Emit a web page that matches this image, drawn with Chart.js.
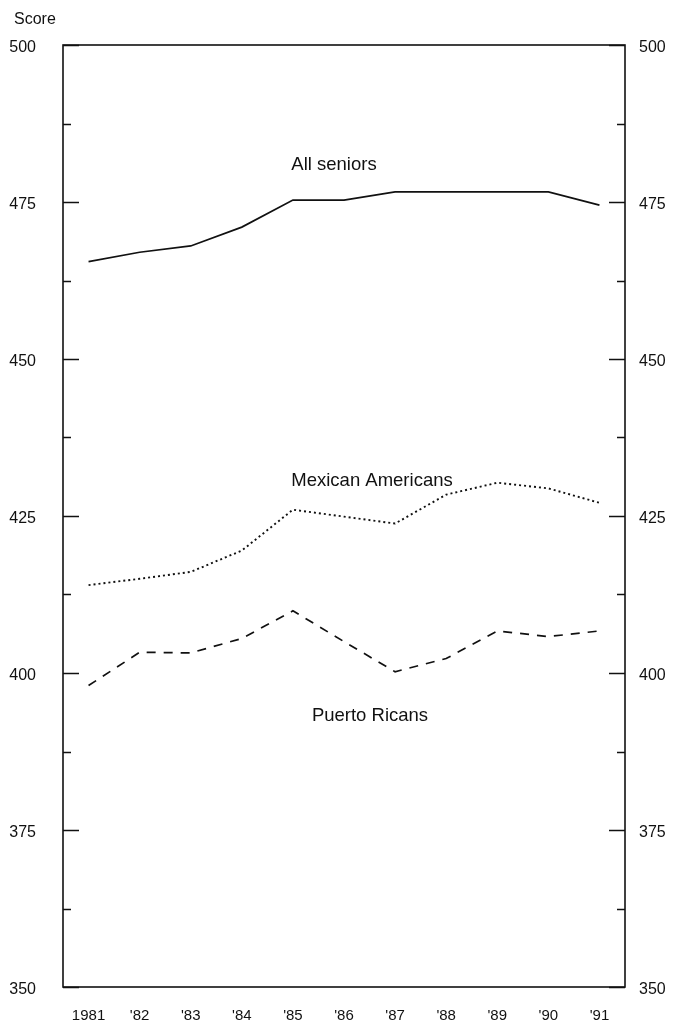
<!DOCTYPE html>
<html>
<head>
<meta charset="utf-8">
<title>Score</title>
<script src="https://cdn.jsdelivr.net/npm/chart.js@4.4.1/dist/chart.umd.min.js"></script>
<style>
  body { margin: 0; background: #fff; }
</style>
</head>
<body>
<canvas id="scoreChart" width="674" height="1024"></canvas>
<script>
var years = ['1981', "'82", "'83", "'84", "'85", "'86", "'87", "'88", "'89", "'90", "'91"];
var allSeniors = [465.5, 467, 468, 471, 475.3, 475.3, 476.6, 476.6, 476.6, 476.6, 474.5];
var mexicanAmericans = [414, 415, 416.1, 419.5, 426, 424.9, 423.8, 428.4, 430.3, 429.4, 427.1];
var puertoRicans = [398, 403.3, 403.2, 405.5, 409.9, 405, 400.2, 402.3, 406.7, 405.8, 406.7];
var scoreMin = 350;
var scoreMax = 500;
var labelStep = 25;
var minorStep = 12.5;

// series names written next to each line
var seriesNotes = [
  { text: 'All seniors', x: 334, y: 165 },
  { text: 'Mexican Americans', x: 372, y: 481 },
  { text: 'Puerto Ricans', x: 370, y: 716 }
];

var FONT = "'Liberation Sans', Arial, Helvetica, sans-serif";
Chart.defaults.font.family = FONT;
Chart.defaults.color = '#111';

// box around the plot, inward ticks on both sides, and the text labels
var framePlugin = {
  id: 'frame',
  afterDatasetsDraw: function (chart) {
    var ctx = chart.ctx;
    var area = chart.chartArea;
    var y = chart.scales.y;
    ctx.save();
    ctx.strokeStyle = '#111';
    ctx.lineWidth = 1.6;
    ctx.strokeRect(area.left, area.top, area.right - area.left, area.bottom - area.top);

    ctx.lineWidth = 1.4;
    for (var v = scoreMin; v <= scoreMax; v += minorStep) {
      var py = Math.round(y.getPixelForValue(v)) + 0.5;
      var len = (v % labelStep === 0) ? 16 : 8;
      ctx.beginPath();
      ctx.moveTo(area.left, py);
      ctx.lineTo(area.left + len, py);
      ctx.moveTo(area.right, py);
      ctx.lineTo(area.right - len, py);
      ctx.stroke();
    }

    ctx.fillStyle = '#111';
    ctx.textBaseline = 'middle';
    ctx.textAlign = 'left';
    ctx.font = '16px ' + FONT;
    ctx.fillText('Score', 14, 20);

    ctx.textAlign = 'center';
    ctx.font = '18.5px ' + FONT;
    seriesNotes.forEach(function (n) {
      ctx.fillText(n.text, n.x, n.y);
    });
    ctx.restore();
  }
};

var ctx = document.getElementById('scoreChart').getContext('2d');

var scoreChart = new Chart(ctx, {
  type: 'line',
  data: {
    labels: years,
    datasets: [
      {
        label: 'All seniors',
        data: allSeniors,
        borderColor: '#111',
        borderWidth: 1.7
      },
      {
        label: 'Mexican Americans',
        data: mexicanAmericans,
        borderColor: '#111',
        borderWidth: 1.9,
        borderDash: [2, 3]
      },
      {
        label: 'Puerto Ricans',
        data: puertoRicans,
        borderColor: '#111',
        borderWidth: 1.7,
        borderDash: [9, 8]
      }
    ]
  },
  options: {
    responsive: false,
    animation: false,
    layout: { padding: { top: 45, left: 0, right: 0, bottom: 0 } },
    elements: {
      point: { radius: 0 },
      line: { tension: 0, fill: false }
    },
    plugins: {
      legend: { display: false },
      tooltip: { enabled: false }
    },
    scales: {
      x: {
        offset: true,
        grid: { display: false, drawTicks: false },
        border: { display: false },
        ticks: {
          autoSkip: false,
          maxRotation: 0,
          padding: 20,
          font: { size: 15 }
        },
        afterFit: function (s) { s.height = 37; }
      },
      y: {
        position: 'left',
        min: scoreMin,
        max: scoreMax,
        grid: { display: false, drawTicks: false },
        border: { display: false },
        ticks: { stepSize: labelStep, padding: 27, labelOffset: 3, font: { size: 16 } },
        afterFit: function (s) { s.width = 63; }
      },
      y2: {
        position: 'right',
        min: scoreMin,
        max: scoreMax,
        grid: { display: false, drawTicks: false },
        border: { display: false },
        ticks: { stepSize: labelStep, padding: 14, labelOffset: 3, font: { size: 16 } },
        afterFit: function (s) { s.width = 49; }
      }
    }
  },
  plugins: [framePlugin]
});
</script>
</body>
</html>
